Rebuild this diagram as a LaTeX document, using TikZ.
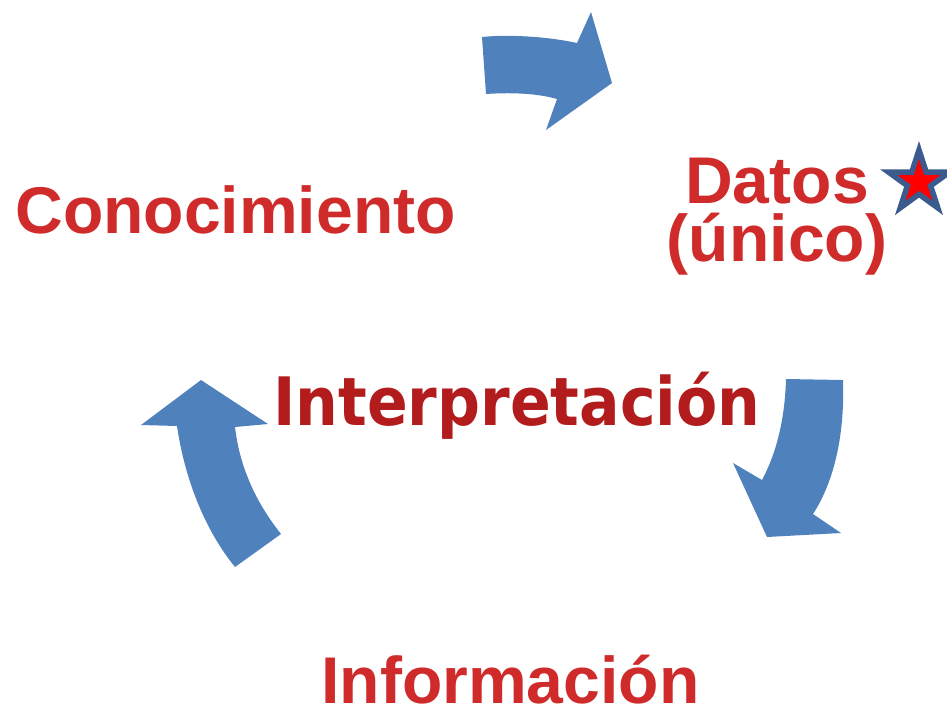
\documentclass[tikz,border=0pt]{standalone}
\usepackage{fontspec}
\setmainfont{Liberation Sans}
\newfontfamily\interpfont{DejaVu Sans Condensed}
\usetikzlibrary{shapes.geometric}

\definecolor{flechaazul}{HTML}{4F81BD}
\definecolor{rojotexto}{HTML}{D02B2B}
\definecolor{rojointerp}{HTML}{B31C1C}
\definecolor{bordeestrella}{HTML}{3B5B8E}

\tikzset{
  flecha/.style={fill=flechaazul, draw=none},
  titulo/.style={anchor=base west, inner sep=0pt, text=rojotexto,
    font=\fontsize{37.6pt}{33pt}\selectfont\bfseries},
  interp/.style={anchor=base west, inner sep=0pt, text=rojointerp,
    font=\fontsize{38pt}{40pt}\interpfont\bfseries}
}

\begin{document}
\begin{tikzpicture}[x=0.02cm, y=-0.02cm]
                \useasboundingbox (0,0) rectangle (947,708);
                % flechas del ciclo
                \fill[flecha] (482,37) -- (486,94) .. controls (515,92) and (540,94) .. (557,99)
                  -- (546,130) -- (612,83) -- (591,12) -- (577,43)
                  .. controls (550,37) and (510,34) .. (482,37) -- cycle;
                \fill[flecha] (786,379) -- (843,380) .. controls (845,440) and (832,485) .. (813,514)
                  -- (841,533) -- (767,537) -- (733,463) -- (762,480)
                  .. controls (778,450) and (785,415) .. (786,379) -- cycle;
                \fill[flecha] (201,380) -- (268,424) -- (235,427)
                  .. controls (240,470) and (258,505) .. (281,534) -- (235,567)
                  .. controls (205,530) and (185,480) .. (177,426) -- (141,425) -- cycle;
                % textos
                \node[titulo, anchor=north, align=center] (datos) at (777,158) {Datos\\(único)};
                \node[titulo] (conoc) at (15,233) {Conocimiento};
                \node[titulo] (info) at (321,703) {Información};
                \node[interp] (interp) at (273,425) {Interpretación};
                % estrella
                \node[star, star points=5, star point ratio=2.618, minimum size=1.28cm, inner sep=0pt,
                  fill=red, draw=bordeestrella, line width=0.11cm] (estrella) at (919,182) {};
            \end{tikzpicture}
\end{document}
